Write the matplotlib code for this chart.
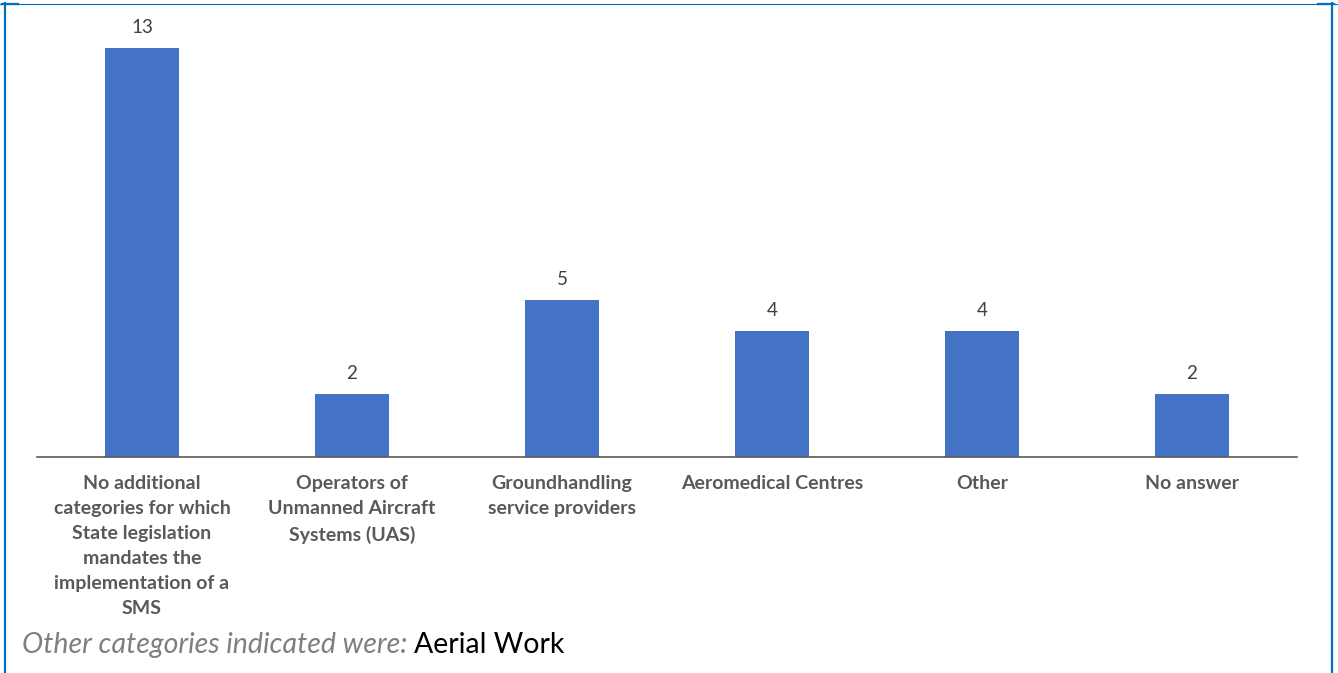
import numpy as np
from matplotlib import pyplot as plt
from matplotlib.lines import Line2D

categories = ["No additional\ncategories for which\nState legislation\nmandates the\nimplementation of a\nSMS",
              "Operators of\nUnmanned Aircraft\nSystems (UAS)",
              "Groundhandling\nservice providers",
              "Aeromedical Centres",
              "Other",
              "No answer"]
counts = [13, 2, 5, 4, 4, 2]

W, H = 1338, 673
fig = plt.figure(figsize=(W/100, H/100), dpi=100)

# axes placed in pixel units
x0, x1, ybase, ytop = 37, 1297, 457, 16
ax = fig.add_axes([x0/W, 1 - ybase/H, (x1-x0)/W, (ybase-ytop)/H])
x = np.arange(len(categories))
bars = ax.bar(x, counts, width=0.35, color="#4472C4")
ax.set_xlim(-0.5, len(categories) - 0.5)
ax.set_ylim(0, 14)
for b, v in zip(bars, counts):
	ax.text(b.get_x() + b.get_width()/2, v + 0.38, str(v), ha="center", va="bottom",
		fontsize=13.5, color="#404040", family="Lato")
for s in ["top", "right", "left"]:
	ax.spines[s].set_visible(False)
ax.spines["bottom"].set_color("#595959")
ax.spines["bottom"].set_linewidth(1.2)
ax.set_yticks([])
ax.set_xticks(x)
ax.set_xticklabels(categories, fontsize=14, fontweight="bold", color="#595959",
	family="Lato", linespacing=1.57)
ax.tick_params(axis="x", length=0, pad=13)

# footnote
t = fig.text(22/W, 1 - 645/H, "Other categories indicated were: ", fontsize=20.5,
	style="italic", color="#7f7f7f", family="Lato", va="center")
fig.canvas.draw()
bb = t.get_window_extent()
fig.text(bb.x1/W, 1 - 645/H, "Aerial Work", fontsize=20.5, color="black",
	family="Lato", va="center")

# blue frame
blue = "#0070C0"
fig.add_artist(Line2D([0, 1], [1 - 3.5/H]*2, color=blue, lw=0.8, transform=fig.transFigure))
fig.add_artist(Line2D([2/W, 18/W], [1 - 4/H]*2, color=blue, lw=1.6, transform=fig.transFigure))
fig.add_artist(Line2D([1318/W, 1334/W], [1 - 4/H]*2, color=blue, lw=1.6, transform=fig.transFigure))
fig.add_artist(Line2D([5/W]*2, [0, 1 - 3/H], color=blue, lw=1.6, transform=fig.transFigure))
fig.add_artist(Line2D([1332/W]*2, [0, 1 - 3/H], color=blue, lw=1.6, transform=fig.transFigure))

plt.savefig("out.png", dpi=100)
